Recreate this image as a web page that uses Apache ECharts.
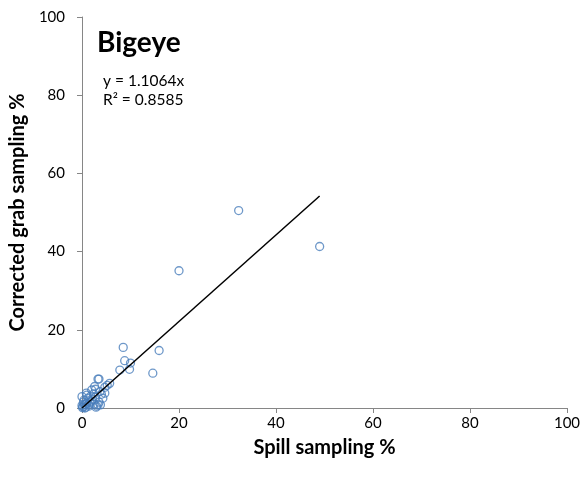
<!DOCTYPE html>
<html><head><meta charset="utf-8">
<script src="https://cdn.jsdelivr.net/npm/echarts@6/dist/echarts.min.js"></script>
<style>html,body{margin:0;padding:0;background:#fff}#c{width:584px;height:477px}</style>
</head><body><div id="c"></div>
<script>
const spillX = [32.3, 49.0, 20.0, 8.5, 15.9, 8.8, 10.0, 7.8, 9.8, 14.6, 3.5, 5.7, 5.2, 4.7, 2.8, 3.3, 2.6, 2.0, 0.9, 0.0, 3.7, 4.7, 4.3, 3.3,
  0.2, 0.5, 1.0, 1.5, 2.0, 2.5, 3.0, 1.2, 0.3, 0.8, 1.8, 2.2, 3.5, 4.0, 2.8, 0.1, 0.6, 1.4, 3.8, 2.4, 1.0, 0.4, 1.6, 2.9, 0.0, 0.7];
const grabY = [50.5, 41.3, 35.1, 15.5, 14.7, 12.1, 11.5, 9.7, 9.9, 8.9, 7.4, 6.3, 5.8, 5.3, 4.8, 7.4, 5.5, 4.6, 3.8, 2.9, 4.2, 3.8, 2.5, 0.8,
  0.3, 0.8, 1.2, 0.5, 1.8, 1.0, 0.5, 2.5, 1.5, 0.2, 3.0, 2.2, 1.5, 3.5, 2.8, 0.1, 0.0, 0.9, 0.8, 3.6, 3.3, 2.0, 1.5, 0.2, 0.6, 1.0];
const slope = 1.1064;
const trendX = [0, 49];
const xTicks = [0, 20, 40, 60, 80, 100];
const yTicks = [0, 20, 40, 60, 80, 100];
const chartTitle = "Bigeye";
const eqText = "y = 1.1064x";
const r2Text = "R² = 0.8585";
const xName = "Spill sampling %";
const yName = "Corrected grab sampling %";

const pts = spillX.map((x, i) => [x, grabY[i]]);
const trend = trendX.map(x => [x, +(x * slope).toFixed(3)]);
const font = "Lato, 'Open Sans', sans-serif";
const chart = echarts.init(document.getElementById('c'));
chart.setOption({
  animation: false,
  backgroundColor: '#fff',
  grid: { left: 80, right: 17, top: 17, bottom: 69 },
  xAxis: {
    type: 'value', min: xTicks[0], max: xTicks[xTicks.length - 1], interval: xTicks[1] - xTicks[0],
    name: xName, nameLocation: 'middle', nameGap: 30,
    nameTextStyle: { fontFamily: font, fontWeight: 'bold', fontSize: 20, color: '#000' },
    axisLine: { show: true, lineStyle: { color: '#868686', width: 1 } },
    axisTick: { show: true, length: 5, lineStyle: { color: '#868686' } },
    axisLabel: { fontFamily: font, fontSize: 15, color: '#000', margin: 8 },
    splitLine: { show: false }
  },
  yAxis: {
    type: 'value', min: yTicks[0], max: yTicks[yTicks.length - 1], interval: yTicks[1] - yTicks[0],
    name: yName, nameLocation: 'middle', nameGap: 45,
    nameTextStyle: { fontFamily: font, fontWeight: 'bold', fontSize: 20, color: '#000' },
    axisLine: { show: true, lineStyle: { color: '#868686', width: 1 } },
    axisTick: { show: true, length: 5, lineStyle: { color: '#868686' } },
    axisLabel: { fontFamily: font, fontSize: 15, color: '#000', margin: 17 },
    splitLine: { show: false }
  },
  series: [
    {
      type: 'scatter', data: pts, symbol: 'circle', symbolSize: 8,
      itemStyle: { color: 'rgba(255,255,255,0)', borderColor: '#4a7ebb', borderWidth: 1.3 },
      z: 2
    },
    {
      type: 'line', data: trend, showSymbol: false, symbol: 'none',
      lineStyle: { color: '#000', width: 1.5 }, z: 3
    }
  ],
  graphic: [
    { type: 'text', left: 97, top: 29, style: { text: chartTitle, font: "bold 28px " + font, fill: '#000' } },
    { type: 'text', left: 103, top: 73, style: { text: eqText, font: "15.5px " + font, fill: '#000' } },
    { type: 'text', left: 103, top: 92, style: { text: r2Text, font: "15.5px " + font, fill: '#000' } }
  ]
});
</script></body></html>
